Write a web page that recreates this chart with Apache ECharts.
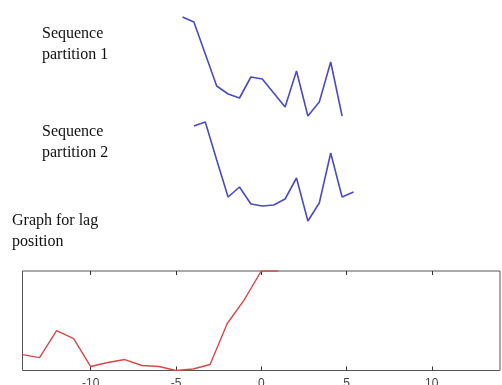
<!DOCTYPE html>
<html lang="en">
<head>
<meta charset="utf-8" />
<style>
    html, body { margin: 0; padding: 0; background: #fff; overflow: hidden; }
    .box { width: 502px; height: 385px; }
</style>
</head>
<body>
<div class="box"></div>
<script src="https://cdn.jsdelivr.net/npm/echarts@6.0.0/dist/echarts.min.js"></script>
<script>
// sequence partition 1 (samples 0..14)
var seq1Index = [0, 1, 2, 3, 4, 5, 6, 7, 8, 9, 10, 11, 12, 13, 14];
var seq1Values = [103, 98, 66, 34, 26, 22, 43, 41, 27, 13, 49, 4, 18, 58, 4];

// sequence partition 2 (samples 1..15, shifted by one)
var seq2Index = [1, 2, 3, 4, 5, 6, 7, 8, 9, 10, 11, 12, 13, 14, 15];
var seq2Values = [99, 103, 65, 28, 38, 21, 19, 20, 26, 47, 4, 22, 72, 28, 33];

// graph for lag position
var lags = [-14, -13, -12, -11, -10, -9, -8, -7, -6, -5, -4, -3, -2, -1, 0, 1];
var lagValues = [0.16, 0.13, 0.40, 0.32, 0.04, 0.08, 0.11, 0.05, 0.04, 0.0, 0.015, 0.06, 0.47, 0.71, 1.0, 1.0];
var lagTicks = [-10, -5, 0, 5, 10];

(function () {
    var myChart = echarts.init(document.querySelector('.box'));

    function pairs(xs, ys) {
        var arr = [];
        for (var i = 0; i < xs.length; i++) arr.push([xs[i], ys[i]]);
        return arr;
    }

    var labelFont = '16px "Liberation Serif", "Times New Roman", serif';
    function label(x, y, txt) {
        return {
            type: 'text',
            x: x,
            y: y,
            style: {
                text: txt,
                font: labelFont,
                fill: '#111',
                lineHeight: 21,
                verticalAlign: 'top'
            }
        };
    }

    var hiddenX = { type: 'value', show: false, min: 0, max: 15 };
    var hiddenY = { type: 'value', show: false, min: 0, max: 120 };

    var option = {
        animation: false,
        backgroundColor: '#fff',
        graphic: [
            label(42, 23, 'Sequence\npartition 1'),
            label(42, 121, 'Sequence\npartition 2'),
            label(12, 210, 'Graph for lag\nposition')
        ],
        grid: [
            { left: 182.5, width: 171, top: 0, height: 120, outerBoundsMode: 'none' },
            { left: 182.5, width: 171, top: 105, height: 120, outerBoundsMode: 'none' },
            {
                left: 22.5, right: 2, top: 271, bottom: 14.5,
                outerBoundsMode: 'none',
                show: true, borderColor: '#555', borderWidth: 1,
                backgroundColor: '#fff'
            }
        ],
        xAxis: [
            Object.assign({ gridIndex: 0 }, hiddenX),
            Object.assign({ gridIndex: 1 }, hiddenX),
            {
                gridIndex: 2, type: 'value', min: -14, max: 14, position: 'bottom',
                axisLine: { show: false },
                splitLine: { show: false },
                axisTick: { inside: true, length: 4, customValues: lagTicks, lineStyle: { color: '#333' } },
                axisLabel: { customValues: lagTicks, color: '#444', fontSize: 12, margin: 7, fontFamily: 'Liberation Sans' }
            },
            {
                gridIndex: 2, type: 'value', min: -14, max: 14, position: 'top',
                axisLine: { show: false },
                splitLine: { show: false },
                axisTick: { inside: true, length: 4, customValues: lagTicks, lineStyle: { color: '#333' } },
                axisLabel: { show: false }
            }
        ],
        yAxis: [
            Object.assign({ gridIndex: 0 }, hiddenY),
            Object.assign({ gridIndex: 1 }, hiddenY),
            { gridIndex: 2, type: 'value', min: 0, max: 1, show: false }
        ],
        series: [
            {
                type: 'line', xAxisIndex: 0, yAxisIndex: 0,
                data: pairs(seq1Index, seq1Values),
                symbol: 'none',
                lineStyle: { color: '#4a4ac2', width: 1.6 }
            },
            {
                type: 'line', xAxisIndex: 1, yAxisIndex: 1,
                data: pairs(seq2Index, seq2Values),
                symbol: 'none',
                lineStyle: { color: '#4a4ac2', width: 1.6 }
            },
            {
                type: 'line', xAxisIndex: 2, yAxisIndex: 2,
                data: pairs(lags, lagValues),
                symbol: 'none',
                lineStyle: { color: '#d84848', width: 1.4 }
            }
        ]
    };

    myChart.setOption(option);
})();
</script>
</body>
</html>
